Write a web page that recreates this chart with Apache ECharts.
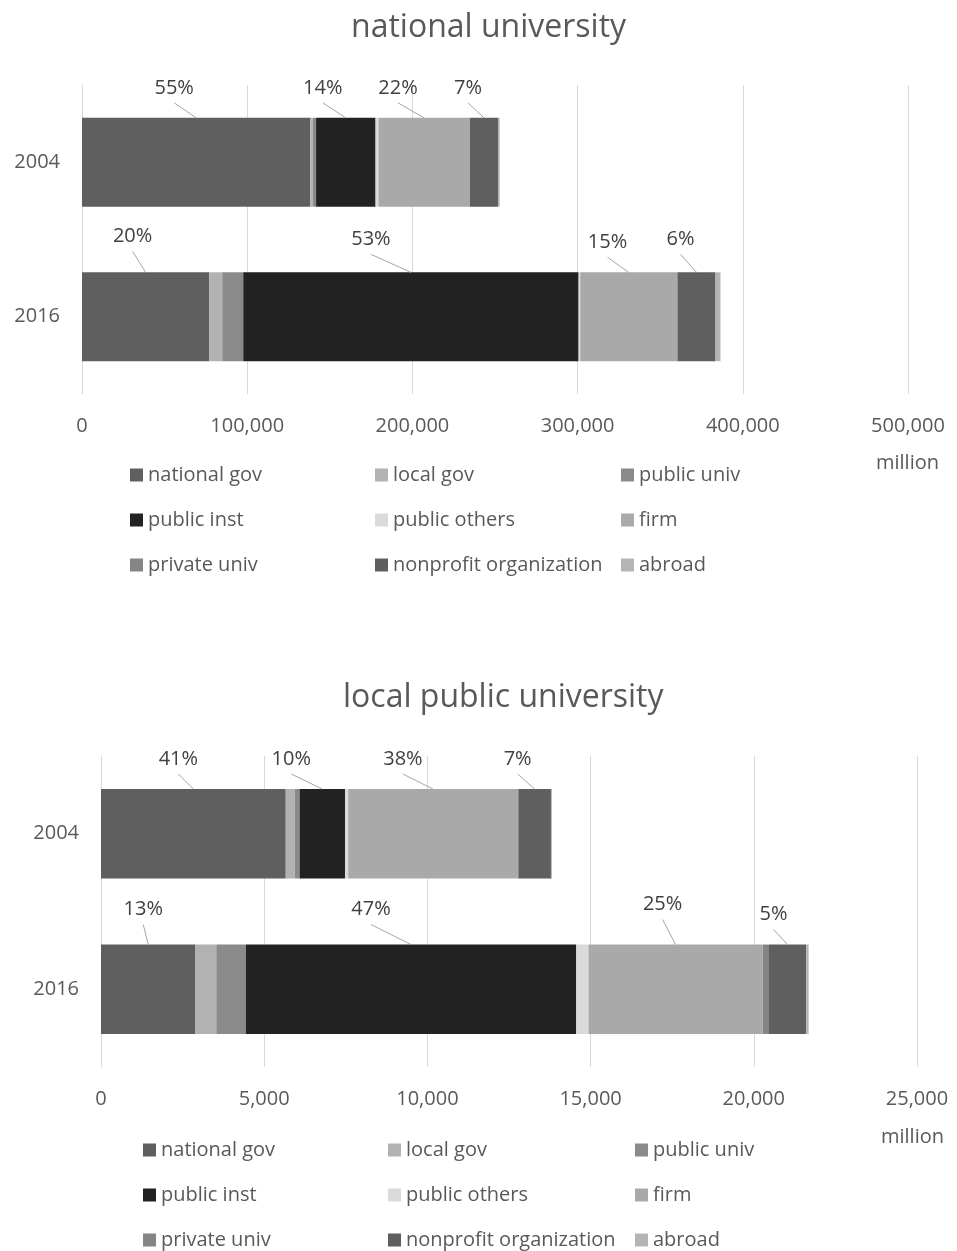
<!DOCTYPE html>
<html>
<head>
<meta charset="utf-8">
<script src="https://cdn.jsdelivr.net/npm/echarts@6/dist/echarts.min.js"></script>
<style>
  html, body { margin: 0; padding: 0; background: #fff; }
  #main { width: 957px; height: 1251px; }
</style>
</head>
<body>
<div id="main"></div>
<script>
// funding sources, in stacking order
var sources = ['national gov', 'local gov', 'public univ', 'public inst', 'public others',
  'firm', 'private univ', 'nonprofit organization', 'abroad'];
var years = ['2004', '2016'];
var colors = ['#5f5f5f', '#b2b2b2', '#8a8a8a', '#222222', '#dadada',
  '#a9a9a9', '#858585', '#5f5f5f', '#b4b4b4'];

// national university (million yen)
var national2004 = [138200, 1500, 2000, 36000, 1800, 55000, 300, 17000, 1000];
var national2016 = [77000, 7900, 12700, 203000, 1000, 58500, 400, 23000, 3000];
// local public university (million yen)
var local2004 = [5660, 275, 150, 1390, 100, 5190, 20, 1000, 30];
var local2016 = [2895, 637, 905, 10125, 373, 5337, 193, 1138, 76];

var nationalTicks = [0, 500000, 100000];
var localTicks = [0, 25000, 5000];

// which sources get a % label
var labelled = [0, 3, 5, 7];

var FONT = 'Open Sans';
var GRAY = '#595959';
var BAR_RATIO = 0.575;

// leader line start, relative to the top centre of each labelled segment
var offNational = [[-22, -15], [-23, -15], [-26, -15], [-16, -15],
                   [-13, -21], [-40, -18], [-21, -15], [-16, -18]];
var offLocal = [[-15, -15], [-31, -15], [-30, -15], [-17, -15],
                [-5, -20], [-40, -20], [-13, -25], [-14, -15]];

var chart = echarts.init(document.getElementById('main'));

function fmt(v) { return v.toLocaleString('en-US'); }

function labelData(rows) {
  var out = [];
  rows.forEach(function (row, c) {
    var total = row.reduce(function (a, b) { return a + b; }, 0);
    var acc = 0;
    row.forEach(function (v, i) {
      if (labelled.indexOf(i) >= 0) {
        out.push([c, acc, acc + v, Math.round(v / total * 100) + '%']);
      }
      acc += v;
    });
  });
  return out;
}

function labelSeries(idx, rows, offs) {
  return {
    type: 'custom',
    xAxisIndex: idx,
    yAxisIndex: idx,
    silent: true,
    z: 5,
    data: labelData(rows),
    encode: { x: [1, 2], y: 0 },
    renderItem: function (params, api) {
      var p = api.coord([(api.value(1) + api.value(2)) / 2, api.value(0)]);
      var band = api.size([0, 1])[1];
      var top = p[1] - band * BAR_RATIO / 2;
      var o = offs[params.dataIndex];
      var sx = p[0] + o[0], sy = top + o[1];
      return {
        type: 'group',
        children: [
          { type: 'line', shape: { x1: sx, y1: sy, x2: p[0], y2: top },
            style: { stroke: '#a6a6a6', lineWidth: 1 } },
          { type: 'text', x: sx, y: sy - 5,
            style: { text: api.value(3), fill: '#404040', font: '20px "' + FONT + '"',
                     align: 'center', verticalAlign: 'bottom' } }
        ]
      };
    }
  };
}

function barSeries(idx, rows) {
  return sources.map(function (name, i) {
    return {
      name: name,
      type: 'bar',
      stack: 's' + idx,
      xAxisIndex: idx,
      yAxisIndex: idx,
      barWidth: (BAR_RATIO * 100) + '%',
      itemStyle: { color: colors[i] },
      silent: true,
      data: rows.map(function (r) { return r[i]; })
    };
  });
}

function legends(lefts, top) {
  var cols = [[0, 3, 6], [1, 4, 7], [2, 5, 8]];
  return cols.map(function (col, k) {
    return {
      orient: 'vertical',
      left: lefts[k],
      top: top,
      height: 130,
      padding: 0,
      icon: 'rect',
      itemWidth: 13,
      itemHeight: 13,
      itemGap: 25,
      selectedMode: false,
      textStyle: { fontFamily: FONT, fontSize: 20, lineHeight: 20, color: GRAY },
      data: col.map(function (i) { return sources[i]; })
    };
  });
}

function valueAxis(idx, ticks) {
  return {
    type: 'value',
    gridIndex: idx,
    min: ticks[0],
    max: ticks[1],
    interval: ticks[2],
    axisLine: { show: false },
    axisTick: { show: false },
    splitLine: { lineStyle: { color: '#d9d9d9' } },
    axisLabel: { formatter: fmt, fontFamily: FONT, fontSize: 20, color: GRAY, margin: 22 }
  };
}

function catAxis(idx) {
  return {
    type: 'category',
    gridIndex: idx,
    data: years,
    inverse: true,
    axisLine: { show: true, lineStyle: { color: '#d9d9d9' } },
    axisTick: { show: false },
    axisLabel: { fontFamily: FONT, fontSize: 20, color: GRAY, margin: 22 }
  };
}

var nationalRows = [national2004, national2016];
var localRows = [local2004, local2016];

var titleStyle = { fontFamily: FONT, fontSize: 32, fontWeight: 'normal', color: GRAY };
var unitStyle = { fontFamily: FONT, fontSize: 20, fontWeight: 'normal', color: GRAY };

var option = {
  backgroundColor: '#fff',
  animation: false,
  title: [
    { text: 'national university', left: 351, top: 12, padding: 0, textStyle: titleStyle },
    { text: 'local public university', left: 343, top: 682, padding: 0, textStyle: titleStyle },
    { text: 'million', left: 876, top: 453, padding: 0, textStyle: unitStyle },
    { text: 'million', left: 881, top: 1127, padding: 0, textStyle: unitStyle }
  ],
  grid: [
    { left: 82, right: 49, top: 85, height: 309 },
    { left: 101, right: 40, top: 756, height: 311 }
  ],
  xAxis: [valueAxis(0, nationalTicks), valueAxis(1, localTicks)],
  yAxis: [catAxis(0), catAxis(1)],
  legend: legends([130, 375, 621], 465).concat(legends([143, 388, 635], 1140)),
  series: barSeries(0, nationalRows)
    .concat(barSeries(1, localRows))
    .concat([labelSeries(0, nationalRows, offNational), labelSeries(1, localRows, offLocal)])
};

chart.setOption(option);
</script>
</body>
</html>
